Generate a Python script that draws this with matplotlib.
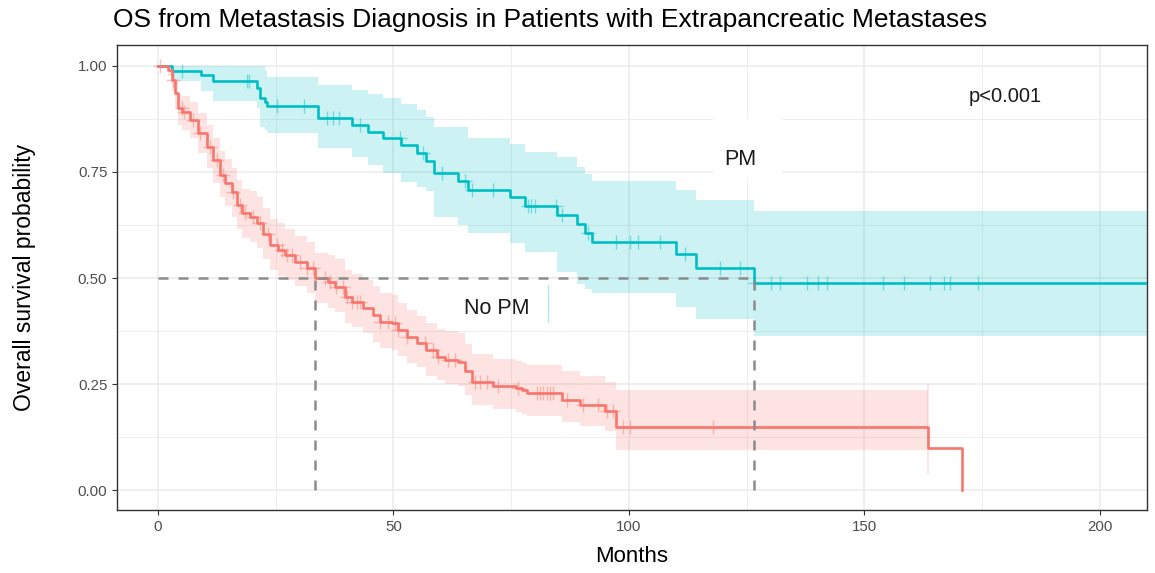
import numpy as np
import matplotlib
matplotlib.use("Agg")
import matplotlib.pyplot as plt
from matplotlib.patches import Rectangle

plt.rcParams['font.family'] = ['Liberation Sans', 'DejaVu Sans']

# Kaplan-Meier estimate, patients with pulmonary metastases (PM)
pm_time = [0, 2.97, 9.07, 11.74, 20.95, 21.7, 22.7, 23.1, 34.0, 41.1, 44.6, 47.8, 51.7,
           54.9, 56.9, 58.6, 63.8, 65.9, 74.7, 77.9, 84.8, 88.9, 90.7, 92.1, 110.0,
           114.2, 126.5, 215.0]
pm_surv = [1.0, 0.988, 0.978, 0.965, 0.949, 0.924, 0.916, 0.906, 0.877, 0.861, 0.844,
           0.831, 0.814, 0.794, 0.777, 0.747, 0.729, 0.708, 0.690, 0.670, 0.649, 0.627,
           0.605, 0.584, 0.556, 0.523, 0.489, 0.489]
pm_lower = [1.0, 0.965, 0.94, 0.918, 0.90, 0.857, 0.85, 0.841, 0.806, 0.786, 0.767,
            0.747, 0.727, 0.715, 0.704, 0.645, 0.625, 0.605, 0.582, 0.562, 0.515, 0.487,
            0.475, 0.465, 0.432, 0.403, 0.363, 0.363]
pm_upper = [1.0, 1.0, 1.0, 1.0, 1.0, 1.0, 0.99, 0.975, 0.954, 0.943, 0.933, 0.924,
            0.91, 0.896, 0.88, 0.857, 0.855, 0.829, 0.816, 0.798, 0.785, 0.762, 0.745,
            0.729, 0.708, 0.684, 0.659, 0.659]
pm_censor = [5.0, 18.8, 19.3, 25.2, 30.9, 35.8, 37.1, 38.5, 42.9, 51.4, 56.3, 60.2, 65.2,
             66.6, 71.2, 78.6, 79.3, 80.0, 84.6, 85.7, 91.2, 97.3, 100.2, 102.0, 106.6,
             112.0, 119.3, 123.6, 126.8, 130.1, 132.1, 137.9, 140.2, 142.0, 154.0,
             158.4, 164.0, 166.9, 168.2, 174.2]

# Kaplan-Meier estimate, patients without pulmonary metastases (No PM)
nopm_time = [0, 2.19, 2.91, 3.61, 4.31, 5.03, 6.79, 8.56, 10.34, 11.74, 13.16, 14.23,
             15.65, 16.71, 17.77, 19.53, 20.96, 22.36, 23.78, 25.54, 26.96, 29.09, 31.57,
             33.33, 36.16, 37.58, 39.7, 41.1, 43.6, 45.7, 47.1, 49.6, 51.0, 52.8, 54.9,
             57.0, 59.2, 60.9, 63.8, 65.2, 66.6, 71.2, 76.1, 77.2, 78.3, 85.7, 89.6,
             94.9, 97.2, 163.5, 170.8]
nopm_surv = [1.0, 0.991, 0.967, 0.936, 0.900, 0.892, 0.873, 0.841, 0.810, 0.778, 0.743,
             0.724, 0.703, 0.672, 0.653, 0.645, 0.629, 0.604, 0.578, 0.566, 0.554, 0.538,
             0.523, 0.499, 0.491, 0.479, 0.456, 0.444, 0.429, 0.413, 0.397, 0.393, 0.377,
             0.362, 0.346, 0.330, 0.314, 0.307, 0.302, 0.281, 0.255, 0.245, 0.240, 0.236,
             0.228, 0.212, 0.200, 0.187, 0.148, 0.098, 0.0]
nopm_lower = [1.0, 0.977, 0.94, 0.90, 0.86, 0.85, 0.83, 0.795, 0.76, 0.725, 0.69, 0.67,
              0.645, 0.615, 0.595, 0.585, 0.57, 0.545, 0.52, 0.505, 0.495, 0.48, 0.465,
              0.44, 0.43, 0.42, 0.395, 0.385, 0.37, 0.35, 0.335, 0.33, 0.315, 0.30, 0.29,
              0.27, 0.26, 0.25, 0.245, 0.225, 0.20, 0.19, 0.185, 0.18, 0.175, 0.16, 0.15,
              0.14, 0.094, 0.04, np.nan]
nopm_upper = [1.0, 1.0, 0.99, 0.965, 0.935, 0.93, 0.915, 0.89, 0.86, 0.83, 0.80, 0.78,
              0.76, 0.73, 0.71, 0.705, 0.69, 0.665, 0.64, 0.63, 0.615, 0.60, 0.585, 0.56,
              0.555, 0.545, 0.52, 0.51, 0.495, 0.48, 0.465, 0.46, 0.44, 0.425, 0.41,
              0.395, 0.38, 0.375, 0.37, 0.345, 0.32, 0.31, 0.305, 0.30, 0.295, 0.28,
              0.27, 0.255, 0.237, 0.25, np.nan]
nopm_censor = [0.4, 3.2, 5.0, 5.5, 7.4, 8.9, 11.0, 12.5, 13.9, 16.0, 17.4, 18.5, 20.2,
               21.7, 23.4, 25.2, 26.3, 27.3, 28.4, 30.1, 31.6, 33.0, 35.5, 36.5, 37.9,
               39.3, 40.1, 41.1, 42.2, 42.9, 47.1, 48.9, 50.3, 51.0, 52.8, 56.7, 58.4,
               59.5, 61.6, 63.1, 67.3, 68.4, 69.8, 72.3, 76.5, 80.4, 81.1, 81.8, 82.5,
               83.2, 83.9, 86.8, 90.3, 93.5, 95.3, 96.7, 98.8, 100.2, 117.8]

x_ticks = [0, 50, 100, 150, 200]
y_ticks = [0.00, 0.25, 0.50, 0.75, 1.00]
y_ticklabels = ["0.00", "0.25", "0.50", "0.75", "1.00"]

RED = "#F8766D"
CYAN = "#00BFC4"

fig = plt.figure(figsize=(11.55, 5.73), dpi=100)
ax = fig.add_axes([0.1013, 0.110, 0.8918, 0.8115])
ax.set_xlim(-8.7, 210)
ax.set_ylim(-0.047, 1.0495)

# grid (major + minor, theme_bw style)
ax.set_xticks(x_ticks)
ax.set_yticks(y_ticks)
ax.set_yticklabels(y_ticklabels)
ax.set_xticks([25, 75, 125, 175], minor=True)
ax.set_yticks([0.125, 0.375, 0.625, 0.875], minor=True)
ax.grid(which='major', color='#EBEBEB', lw=1.1, zorder=0)
ax.grid(which='minor', color='#EBEBEB', lw=0.6, zorder=0)
ax.set_axisbelow(True)
ax.tick_params(which='minor', length=0)
ax.tick_params(which='major', length=3.5, width=0.8, color='#333333',
               labelsize=10.8, labelcolor='#4D4D4D', pad=3.5)
for s in ax.spines.values():
    s.set_color('#333333')
    s.set_linewidth(1.0)


def step_value(times, surv, t):
    idx = np.searchsorted(np.asarray(times), t, side='right') - 1
    return np.asarray(surv)[idx]


def draw_group(times, surv, lower, upper, censor, color):
    ax.fill_between(times, lower, upper, step='post', color=color, alpha=0.2,
                    lw=0, zorder=2)
    ax.step(times, surv, where='post', color=color, lw=1.9, zorder=4)
    cy = [step_value(times, surv, c) for c in censor]
    ax.plot(censor, cy, ls='none', marker='+', ms=10, mew=1.0, color=color,
            alpha=0.45, zorder=3)


draw_group(pm_time, pm_surv, pm_lower, pm_upper, pm_censor, CYAN)
draw_group(nopm_time, nopm_surv, nopm_lower, nopm_upper, nopm_censor, RED)

# closing edge of the No PM confidence ribbon at its last finite interval
ax.plot([nopm_time[-2], nopm_time[-2]], [nopm_lower[-2], nopm_upper[-2]],
        color=RED, alpha=0.2, lw=1.2, zorder=2)

# median survival lines
def median_time(times, surv):
    for t, s in zip(times, surv):
        if s <= 0.5:
            return t
    return None

med_nopm = median_time(nopm_time, nopm_surv)
med_pm = median_time(pm_time, pm_surv)
dash = dict(color='#8C8C8C', lw=1.8, ls=(0, (4, 4)), zorder=5)
ax.plot([0, max(med_nopm, med_pm)], [0.5, 0.5], **dash)
ax.plot([med_nopm, med_nopm], [0, 0.5], **dash)
ax.plot([med_pm, med_pm], [0, 0.5], **dash)

# group labels
ax.add_patch(Rectangle((117.8, 0.737), 14.6, 0.137, facecolor='white',
                       edgecolor='none', zorder=6))
ax.text(123.6, 0.78, "PM", ha='center', va='center', fontsize=15.5, color='#1A1A1A',
        zorder=7)
ax.text(72.0, 0.428, "No PM", ha='center', va='center', fontsize=15.5, color='#1A1A1A',
        zorder=7)
ax.plot([82.8, 82.8], [0.396, 0.483], color=CYAN, alpha=0.3, lw=1.0, zorder=6)
ax.text(180.0, 0.929, "p<0.001", ha='center', va='center', fontsize=14.5,
        color='#1A1A1A', zorder=7)

ax.set_xlabel("Months", fontsize=16, color='black', labelpad=9)
ax.set_ylabel("Overall survival probability", fontsize=16.5, color='black', labelpad=30)
fig.text(0.098, 0.965, "OS from Metastasis Diagnosis in Patients with Extrapancreatic Metastases",
         fontsize=19, ha='left', va='center', color='black')

fig.savefig("out.png", dpi=100)
